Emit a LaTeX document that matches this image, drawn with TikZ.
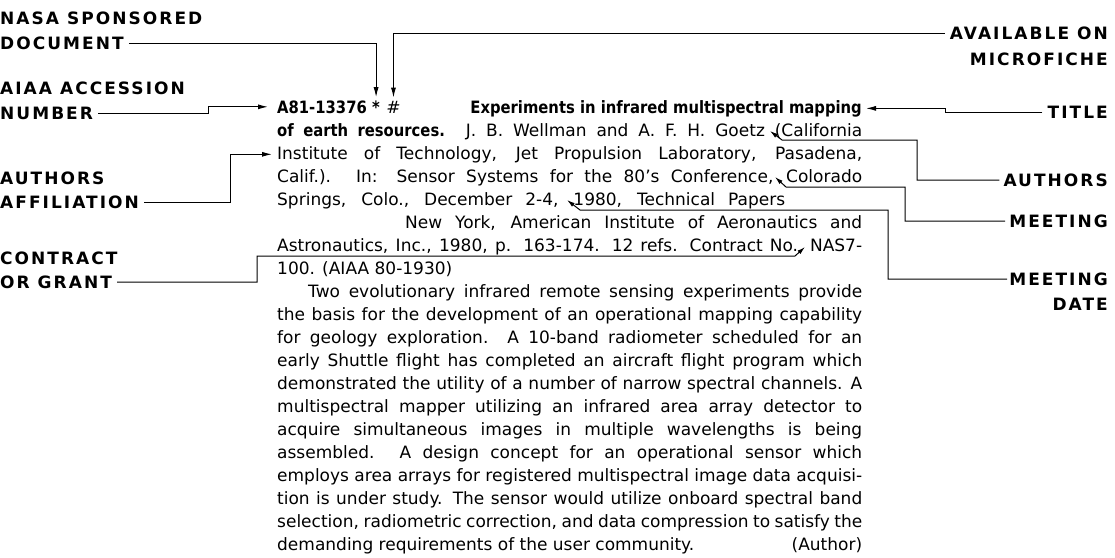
\documentclass[tikz,border=0pt]{standalone}
\usepackage{fontspec}
\setmainfont{DejaVu Sans}
\newfontfamily\lblfont{DejaVu Sans}[LetterSpace=12]
\newfontfamily\bodyfont{DejaVu Sans}
\newfontfamily\headfont{DejaVu Sans}[FakeStretch=0.87]
\usetikzlibrary{positioning, arrows.meta}

% justified line of the citation block
\newcommand{\jl}[1]{\makebox[585pt][s]{#1}}
\newcommand{\hb}[1]{{\headfont\bfseries #1}}

\begin{document}
\begin{tikzpicture}[
    x=1pt, y=-1pt,
    lbl/.style={font=\lblfont\bfseries\fontsize{17}{20}\selectfont, inner sep=0pt},
    lbll/.style={lbl, anchor=west},
    lblr/.style={lbl, anchor=east},
    txt/.style={font=\bodyfont\fontsize{17}{23}\selectfont, inner sep=0pt, anchor=base west},
    arrow/.style={-{Latex[length=10pt,width=5pt]}, line width=1pt},
    ptr/.style={-{Latex[length=8pt,width=4.5pt]}, line width=1pt},
]
\useasboundingbox (0,0) rectangle (1115,557);

% ── Left labels ─────────────────────────────────────────────────────────
\node[lbll] (nasa) at (0,18)  {NASA SPONSORED};
\node[lbll] (doc)  at (0,43)  {DOCUMENT};
\node[lbll] (aiaa) at (0,88)  {AIAA ACCESSION};
\node[lbll] (num)  at (0,113) {NUMBER};
\node[lbll] (auth) at (0,178) {AUTHORS};
\node[lbll] (affil) at (0,202) {AFFILIATION};
\node[lbll] (contr) at (0,258) {CONTRACT};
\node[lbll] (grant) at (0,282) {OR GRANT};

% ── Right labels ────────────────────────────────────────────────────────
\node[lblr] (avail) at (1108,33)  {AVAILABLE ON};
\node[lblr] (micro) at (1108,59)  {MICROFICHE};
\node[lblr] (ttlLbl) at (1108,112) {TITLE};
\node[lblr] (authR) at (1108,180) {AUTHORS};
\node[lblr] (meet)  at (1108,221) {MEETING};
\node[lblr] (mdate) at (1108,279) {MEETING};
\node[lblr] (date)  at (1108,304) {DATE};

% ── Citation ────────────────────────────────────────────────────────────
\node[txt] (acc) at (277,113) {\hb{A81-13376}};
\node[txt, base right=5pt of acc] (star) {\hb{*}};
\node[txt, base right=6pt of star] (hash) {\textit{\#}};
\node[txt, anchor=base east] (ttl) at (862,113)
    {\hb{Experiments in infrared multispectral mapping}};
\node[txt] (l1) at (277,136)
    {\jl{\hb{of earth resources.} J. B. Wellman and A. F. H. Goetz (California}};
\node[txt] (l2) at (277,159)
    {\jl{Institute of Technology, Jet Propulsion Laboratory, Pasadena,}};
\node[txt] (l3) at (277,182)
    {\jl{Calif.). In: Sensor Systems for the 80’s Conference, Colorado}};
\node[txt] (l4) at (277,205)
    {\makebox[508pt][s]{Springs, Colo., December 2-4, 1980, Technical Papers}};
\node[txt] (l5) at (405,228)
    {\makebox[457pt][s]{New York, American Institute of Aeronautics and}};
\node[txt] (l6) at (277,251)
    {\jl{Astronautics, Inc., 1980, p. 163-174. 12 refs. Contract No. NAS7-}};
\node[txt] (l7) at (277,274) {100. (AIAA 80-1930)};

% ── Abstract ────────────────────────────────────────────────────────────
\node[txt] (l8) at (308,297)
    {\makebox[554pt][s]{Two evolutionary infrared remote sensing experiments provide}};
\foreach \k/\t in {
    9/{the basis for the development of an operational mapping capability},
    10/{for geology exploration. A 10-band radiometer scheduled for an},
    11/{early Shuttle flight has completed an aircraft flight program which},
    12/{demonstrated the utility of a number of narrow spectral channels. A},
    13/{multispectral mapper utilizing an infrared area array detector to},
    14/{acquire simultaneous images in multiple wavelengths is being},
    15/{assembled. A design concept for an operational sensor which},
    16/{employs area arrays for registered multispectral image data acquisi-},
    17/{tion is under study. The sensor would utilize onboard spectral band},
    18/{selection, radiometric correction, and data compression to satisfy the}} {
    \node[txt] (l\k) at (277,{113+23*\k}) {\jl{\t}};
}
\node[txt] (l19) at (277,550)
    {\makebox[585pt][l]{demanding requirements of the user community.\hfill(Author)}};

% ── Pointer ends ────────────────────────────────────────────────────────
\coordinate (goetz)   at (770,131);
\coordinate (goetzB)  at (782,140);
\coordinate (authJog) at (917,140);
\coordinate (conf)    at (775,177);
\coordinate (confB)   at (786,187);
\coordinate (meetJog) at (905,187);
\coordinate (dateTip) at (567,200);
\coordinate (dateB)   at (580,210);
\coordinate (dateJog) at (888,210);
\coordinate (noTip)   at (805,247);
\coordinate (noB)     at (795,256);
\coordinate (contJog) at (257,256);

% ── Connectors, left ────────────────────────────────────────────────────
\draw[arrow] ([xshift=5pt]doc.east) -| ([yshift=3pt]star.north);
\draw[arrow] ([xshift=5pt]num.east) -| ([xshift=-69pt]acc.west) -- ([xshift=-9pt]acc.west);
\draw[arrow] ([xshift=5pt]affil.east) -| ([xshift=-47pt]l2.west) -- ([xshift=-5pt]l2.west);
\draw[ptr] ([xshift=5pt]grant.east) -| (contJog) -- (noB) -- (noTip);

% ── Connectors, right ───────────────────────────────────────────────────
\draw[arrow] ([xshift=-5pt]avail.west) -| ([yshift=3pt]hash.north);
\draw[arrow] ([xshift=-5pt]ttlLbl.west) -| ([xshift=83pt]ttl.east) -- ([xshift=4pt]ttl.east);
\draw[ptr] ([xshift=-4pt]authR.west) -| (authJog) -- (goetzB) -- (goetz);
\draw[ptr] ([xshift=-4pt]meet.west) -| (meetJog) -- (confB) -- (conf);
\draw[ptr] ([xshift=-2pt]mdate.west) -| (dateJog) -- (dateB) -- (dateTip);

\end{tikzpicture}
\end{document}
